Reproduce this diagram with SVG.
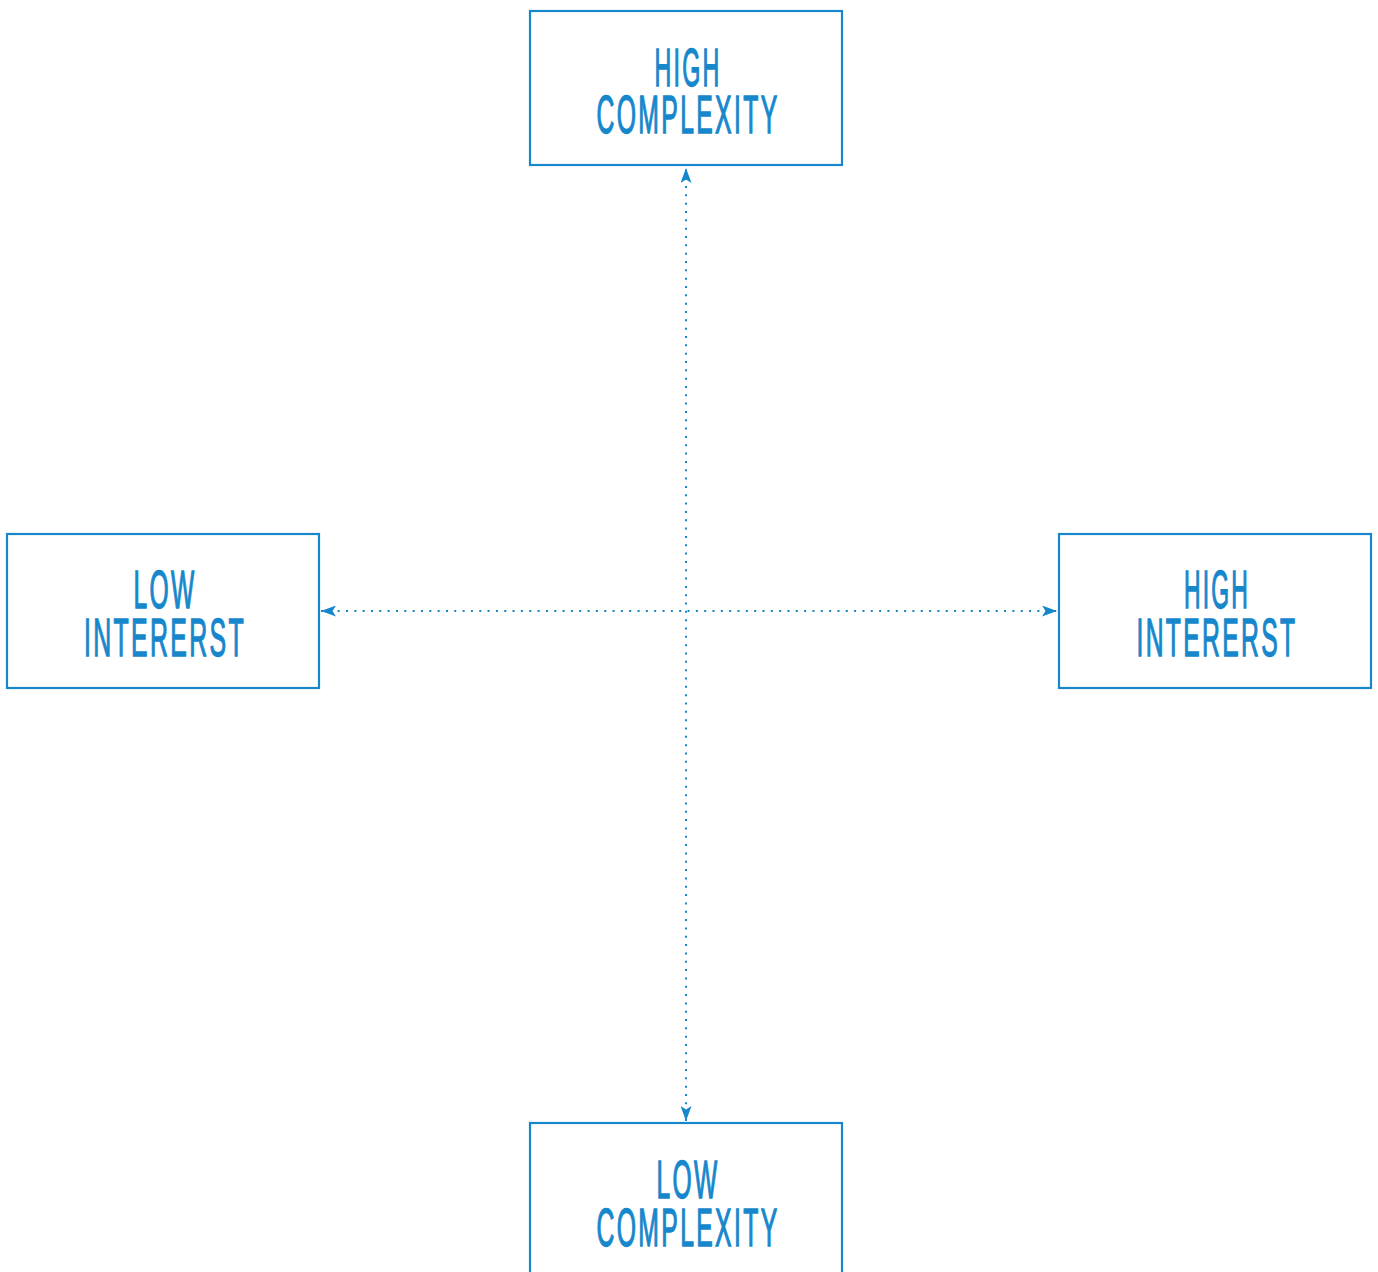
<svg xmlns="http://www.w3.org/2000/svg" width="1378" height="1272" viewBox="0 0 1378 1272">
<style>
.box{fill:#ffffff;stroke:#1787cc;stroke-width:2.2}
.lbl{font-family:"Liberation Sans",Arial,sans-serif;font-size:53px;letter-spacing:5px;fill:#1787cc;stroke:#1787cc;stroke-width:1.4;text-anchor:middle}
.con{fill:none;stroke:#1787cc;stroke-width:2;stroke-dasharray:2 6.33}
</style>
<defs>
<marker id="arr" viewBox="0 0 15 11" refX="15" refY="5.5" markerWidth="15" markerHeight="11" markerUnits="userSpaceOnUse" orient="auto-start-reverse">
<path d="M0,0 L15,5.5 L0,11 L3.5,5.5 Z" fill="#1787cc"/>
</marker>
</defs>
<rect width="1378" height="1272" fill="#ffffff"/>
<g id="connectors">
<line class="con" x1="686" y1="1121" x2="686" y2="168" marker-start="url(#arr)" marker-end="url(#arr)"/>
<line class="con" x1="321" y1="611" x2="1057" y2="611" marker-start="url(#arr)" marker-end="url(#arr)"/>
</g>
<g id="high-complexity">
<rect class="box" x="530" y="11" width="312" height="154"/>
<text class="lbl" x="688" y="86" textLength="67" lengthAdjust="spacingAndGlyphs">HIGH</text>
<text class="lbl" x="688" y="133" textLength="183" lengthAdjust="spacingAndGlyphs">COMPLEXITY</text>
</g>
<g id="low-interest">
<rect class="box" x="7" y="534" width="312" height="154"/>
<text class="lbl" x="165" y="608" textLength="63" lengthAdjust="spacingAndGlyphs">LOW</text>
<text class="lbl" x="165" y="656" textLength="162" lengthAdjust="spacingAndGlyphs">INTERERST</text>
</g>
<g id="high-interest">
<rect class="box" x="1059" y="534" width="312" height="154"/>
<text class="lbl" x="1217" y="608" textLength="66" lengthAdjust="spacingAndGlyphs">HIGH</text>
<text class="lbl" x="1217" y="656" textLength="161" lengthAdjust="spacingAndGlyphs">INTERERST</text>
</g>
<g id="low-complexity">
<rect class="box" x="530" y="1123" width="312" height="154"/>
<text class="lbl" x="688" y="1198" textLength="63" lengthAdjust="spacingAndGlyphs">LOW</text>
<text class="lbl" x="688" y="1246" textLength="183" lengthAdjust="spacingAndGlyphs">COMPLEXITY</text>
</g>
</svg>
